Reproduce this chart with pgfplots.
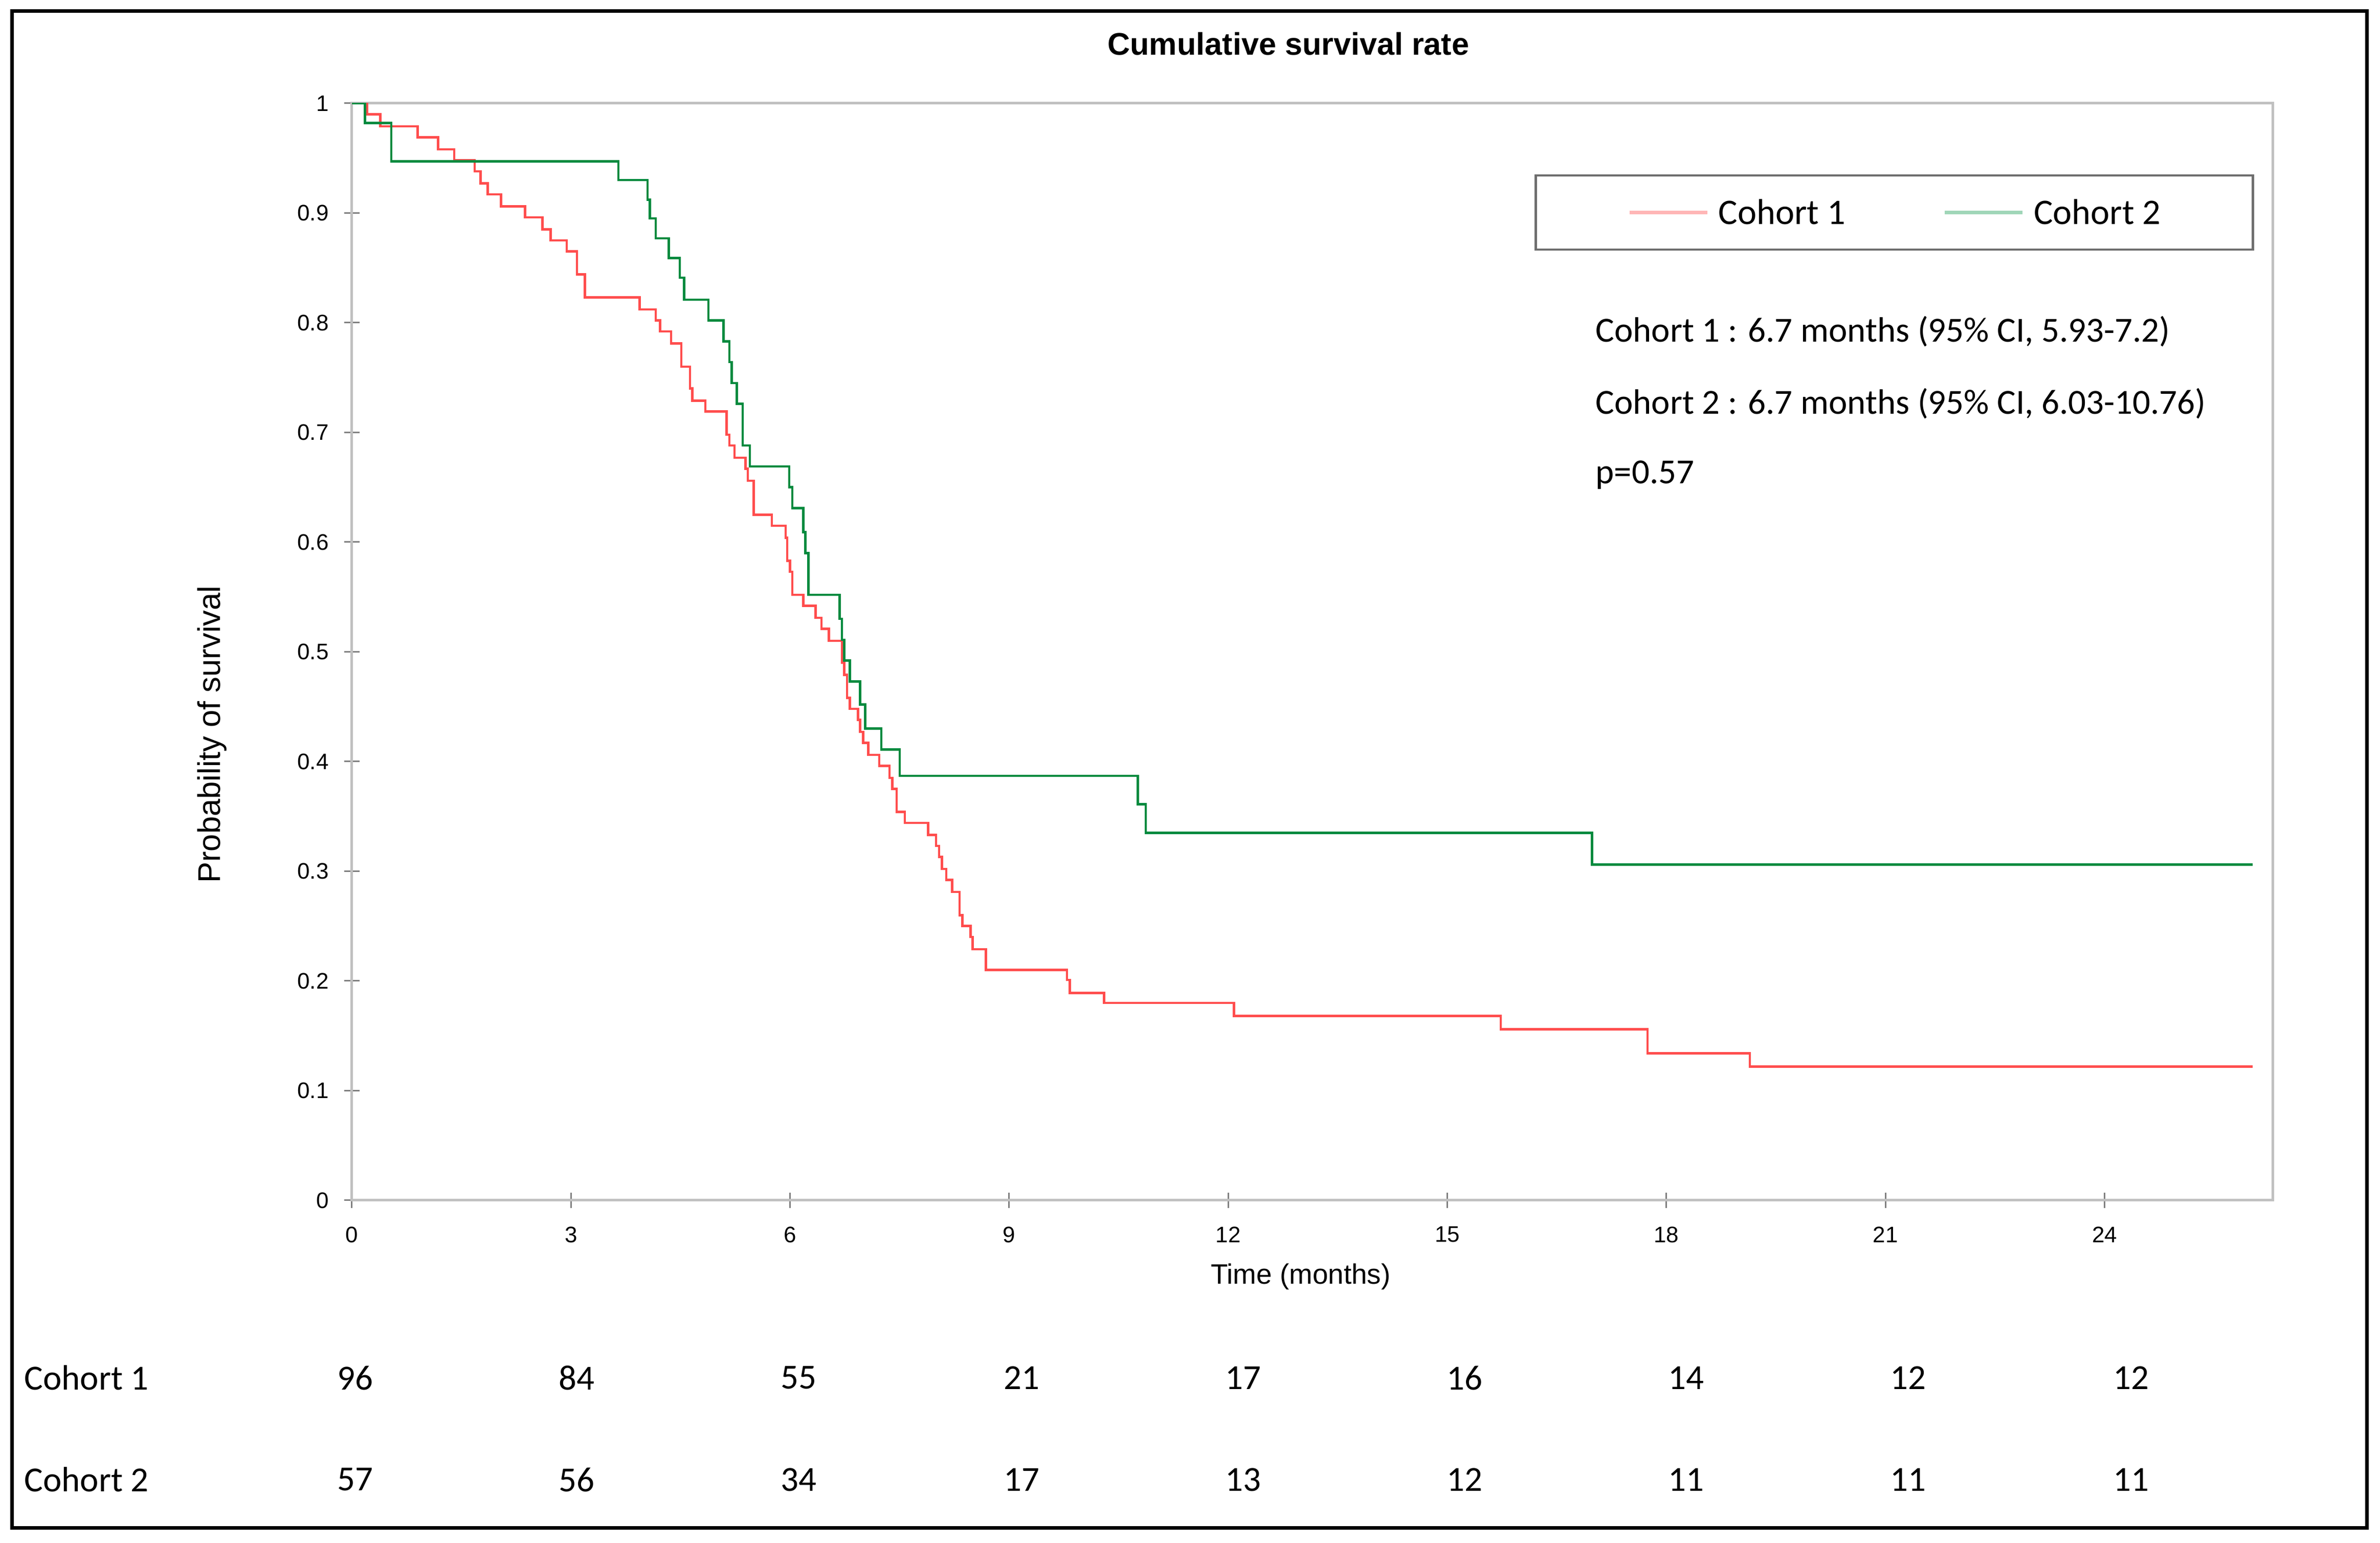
\documentclass[border=0pt]{standalone}
\usepackage{pgfplots}
\pgfplotsset{compat=1.18}
\usepackage{fontspec}
\setmainfont{Liberation Sans}
\newfontfamily\carlito{Carlito}
\definecolor{cred}{RGB}{255,77,77}
\definecolor{cgreen}{RGB}{0,138,62}
\definecolor{lred}{RGB}{255,182,182}
\definecolor{lgreen}{RGB}{160,214,184}
\definecolor{axgray}{RGB}{192,192,192}
\definecolor{tickgray}{RGB}{128,128,128}
\definecolor{leggray}{RGB}{110,110,110}

\pgfplotstableread{
t s
0 1
0.21 0.990
0.39 0.979
0.90 0.969
1.18 0.958
1.40 0.948
1.68 0.938
1.76 0.927
1.86 0.917
2.04 0.906
2.37 0.896
2.61 0.885
2.72 0.875
2.94 0.865
3.08 0.844
3.19 0.823
3.94 0.812
4.16 0.802
4.22 0.792
4.37 0.781
4.51 0.760
4.63 0.740
4.66 0.729
4.84 0.719
5.13 0.698
5.17 0.688
5.24 0.677
5.39 0.667
5.42 0.656
5.50 0.625
5.75 0.615
5.94 0.604
5.96 0.583
6.00 0.573
6.03 0.552
6.18 0.542
6.35 0.531
6.43 0.521
6.53 0.510
6.71 0.490
6.74 0.479
6.78 0.458
6.82 0.448
6.93 0.438
6.96 0.427
7.00 0.417
7.07 0.406
7.22 0.396
7.36 0.385
7.40 0.375
7.46 0.354
7.57 0.344
7.89 0.333
8.00 0.323
8.04 0.313
8.08 0.302
8.14 0.292
8.22 0.281
8.32 0.260
8.36 0.250
8.47 0.240
8.50 0.229
8.68 0.210
9.79 0.201
9.83 0.189
10.30 0.180
12.08 0.168
15.73 0.156
17.74 0.134
19.14 0.122
26.03 0.122
}\cohortone

\pgfplotstableread{
t s
0 1
0.18 0.982
0.54 0.947
3.65 0.930
4.05 0.912
4.08 0.895
4.16 0.877
4.34 0.859
4.49 0.841
4.55 0.821
4.88 0.802
5.09 0.783
5.17 0.764
5.20 0.745
5.27 0.726
5.35 0.688
5.45 0.669
5.99 0.650
6.03 0.631
6.18 0.609
6.21 0.590
6.25 0.552
6.68 0.530
6.71 0.511
6.74 0.492
6.82 0.473
6.96 0.452
7.03 0.430
7.25 0.411
7.50 0.387
10.76 0.361
10.87 0.335
16.98 0.306
26.03 0.306
}\cohorttwo

\begin{document}
\begin{tikzpicture}
\useasboundingbox (-6.88cm,-6.70cm) rectangle (39.65cm,23.47cm);
\begin{axis}[
  scale only axis, width=37.55cm, height=21.45cm,
  at={(0,0)}, anchor=south west,
  xmin=0, xmax=26.3, ymin=0, ymax=1,
  xtick={0,3,6,9,12,15,18,21,24},
  ytick={0,0.1,0.2,0.3,0.4,0.5,0.6,0.7,0.8,0.9,1},
  axis line style={draw=axgray, line width=0.05cm},
  tick style={draw=tickgray, line width=0.03cm},
  major tick length=0.3cm, tick align=center, tick pos=left,
  /pgf/number format/assume math mode=true,
  tick label style={font=\fontsize{12.5pt}{14pt}\selectfont},
  xticklabel style={yshift=-0.24cm},
  yticklabel style={xshift=-0.18cm},
  title={Cumulative survival rate},
  title style={font=\bfseries\fontsize{17.4pt}{20pt}\selectfont, at={(axis description cs:0.4876,1.0443)}, anchor=center},
  xlabel={Time (months)},
  xlabel style={font=\fontsize{15.6pt}{18pt}\selectfont, at={(axis description cs:0.494,-0.0695)}, anchor=center},
  ylabel={Probability of survival},
  ylabel style={font=\fontsize{17.5pt}{20pt}\selectfont, at={(axis description cs:-0.0727,0.4247)}, anchor=center},
  legend columns=2,
  legend image code/.code={\draw[#1, line width=0.065cm] (0cm,0cm) -- (1.52cm,0cm);},
  legend style={at={(axis description cs:0.6157,0.9352)}, anchor=north west,
    draw=leggray, line width=0.045cm,
    font=\carlito\fontsize{20pt}{24pt}\selectfont,
    inner xsep=1.8cm, inner ysep=0.5cm, column sep=0.19cm,
    /tikz/every even column/.append style={column sep=1.91cm},
    nodes={inner sep=0pt, text height=0.45cm, text depth=0cm}},
]
\addlegendimage{lred}
\addlegendentry{Cohort 1}
\addlegendimage{lgreen}
\addlegendentry{Cohort 2}
\addplot[const plot, color=cred, line width=0.045cm, forget plot] table[x=t, y=s] {\cohortone};
\addplot[const plot, color=cgreen, line width=0.045cm, forget plot] table[x=t, y=s] {\cohorttwo};
\end{axis}
% outer frame
\draw[line width=0.07cm, black] (-6.64cm,23.25cm) rectangle (39.39cm,-6.41cm);
% annotations
\begin{scope}[every node/.style={inner sep=0pt, font=\carlito\fontsize{19.6pt}{24pt}\selectfont}]
\node[anchor=west] at (24.31cm,16.99cm) {Cohort 1 : 6.7 months (95\% CI, 5.93-7.2)};
\node[anchor=west] at (24.31cm,15.58cm) {Cohort 2 : 6.7 months (95\% CI, 6.03-10.76)};
\node[anchor=west] at (24.31cm,14.18cm) {p=0.57};
% number at risk
\node[anchor=west] at (-6.41cm,-3.47cm) {Cohort 1};
\node[anchor=west] at (-6.41cm,-5.46cm) {Cohort 2};
\foreach \x/\a/\b in {0.06/96/57, 4.39/84/56, 8.73/55/34, 13.09/21/17, 17.42/17/13, 21.75/16/12, 26.08/14/11, 30.42/12/11, 34.78/12/11}{
  \node at (\x cm,-3.47cm) {\a};
  \node at (\x cm,-5.46cm) {\b};
}
\end{scope}
\end{tikzpicture}
\end{document}
